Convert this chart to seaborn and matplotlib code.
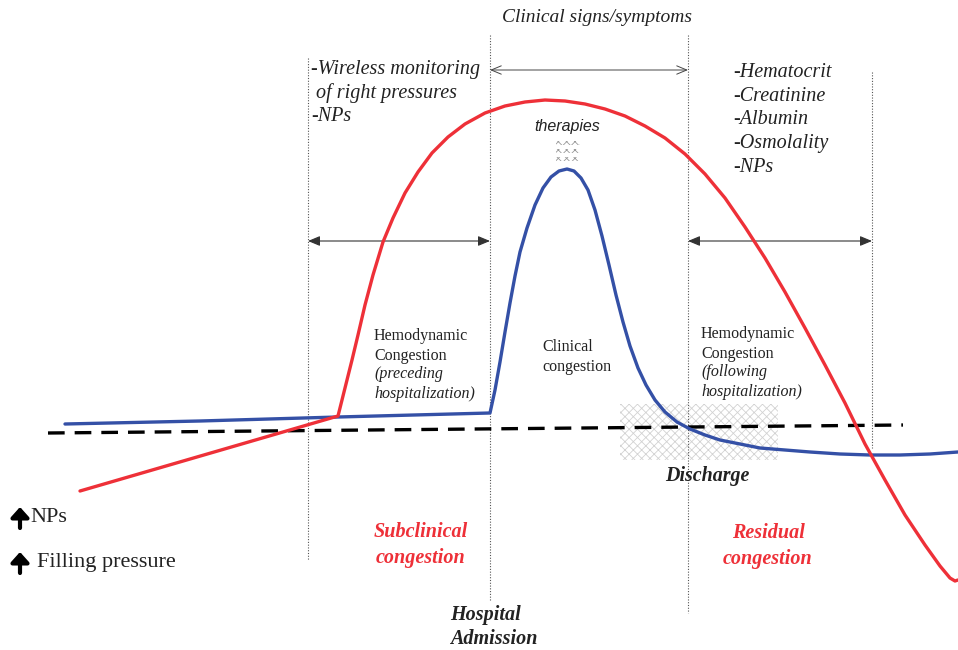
"""
Congestion timeline diagram: hemodynamic vs clinical congestion
"""
import numpy as np
import pandas as pd
import matplotlib.pyplot as plt
from matplotlib.patches import Rectangle
import seaborn as sns

sns.set_theme(style="white")
plt.rcParams["font.family"] = ["Liberation Serif", "DejaVu Serif"]

# ── Data (pixel space, y down) ───────────────────────────────────────────────
red_x = [80, 338, 342, 347, 352, 358, 365, 373, 383, 393, 405, 418, 432, 448, 465,
         485, 505, 525, 545, 565, 585, 605, 625, 645, 665, 685, 705, 725, 745, 765,
         785, 805, 825, 845, 865, 885, 905, 925, 940, 950, 955, 958]
red_y = [491, 416, 400, 380, 360, 335, 305, 275, 242, 218, 193, 172, 153, 137, 124,
         113, 106, 102, 100, 101, 104, 109, 116, 126, 138, 154, 174, 198, 227, 258,
         292, 328, 365, 403, 444, 480, 515, 545, 566, 578, 581, 580]

blue_x = [65, 200, 338, 490, 495, 500, 505, 510, 515, 520, 527, 535, 543, 551, 559,
          567, 574, 581, 588, 595, 602, 609, 616, 623, 630, 638, 646, 655, 665, 677,
          690, 705, 720, 740, 760, 785, 810, 840, 870, 900, 930, 958]
blue_y = [424, 421, 417, 413, 390, 362, 332, 303, 276, 252, 228, 205, 188, 177, 171,
          169, 171, 178, 190, 210, 236, 265, 295, 322, 346, 368, 385, 400, 412, 422,
          429, 435, 440, 444, 448, 450, 452, 454, 455, 455, 454, 452]

dash_x = [48, 903]
dash_y = [433, 425]

vline_x = [308, 490, 688, 872]
vline_top = [58, 35, 35, 72]
vline_bot = [560, 600, 613, 448]

RED = "#ee3038"
BLUE = "#3450a6"
INK = "#222222"

red = pd.DataFrame({"x": red_x, "y": red_y})
blue = pd.DataFrame({"x": blue_x, "y": blue_y})

# ── Figure ───────────────────────────────────────────────────────────────────
fig = plt.figure(figsize=(9.58, 6.5), dpi=100)
ax = fig.add_axes([0, 0, 1, 1])

# hatched discharge zone and therapy marks
plt.rcParams["hatch.linewidth"] = 0.6
ax.add_patch(Rectangle((620, 404), 158, 56, facecolor="none", edgecolor="#d2d2d2",
                       hatch="xxxx", linewidth=0, zorder=1))
for yy in [141, 149, 157]:
    ax.add_patch(Rectangle((556, yy), 24, 4, facecolor="none", edgecolor="#9a9a9a",
                           hatch="xxxx", linewidth=0, zorder=1))

ax.vlines(vline_x, vline_top, vline_bot, colors="#555555", linestyles=(0, (1, 1.5)),
          linewidth=0.8, zorder=1)

sns.lineplot(data=blue, x="x", y="y", sort=False, estimator=None, color=BLUE,
             linewidth=2.4, ax=ax, zorder=3)
sns.lineplot(x=dash_x, y=dash_y, sort=False, estimator=None, color="black",
             linewidth=2.4, linestyle=(0, (5, 3)), ax=ax, zorder=2)
sns.lineplot(data=red, x="x", y="y", sort=False, estimator=None, color=RED,
             linewidth=2.4, ax=ax, zorder=4)
ax.set_xlim(0, 958)
ax.set_ylim(650, 0)
ax.axis("off")

# span arrows
arr = dict(arrowstyle="<|-|>,head_width=0.25,head_length=0.6", color="#333333",
           lw=0.8, shrinkA=0, shrinkB=0)
ax.annotate("", xy=(308, 241), xytext=(490, 241), arrowprops=arr)
ax.annotate("", xy=(688, 241), xytext=(872, 241), arrowprops=arr)
ax.annotate("", xy=(490, 70), xytext=(688, 70),
            arrowprops=dict(arrowstyle="<->,head_width=0.25,head_length=0.6",
                            color="#444444", lw=0.7, shrinkA=0, shrinkB=0))

# ── Labels ───────────────────────────────────────────────────────────────────
ax.text(597, 18, "Clinical signs/symptoms", style="italic", fontsize=14,
        ha="center", va="center", color=INK)
ax.text(311, 93, "-Wireless monitoring\n of right pressures\n-NPs", style="italic",
        fontsize=14.5, ha="left", va="center", linespacing=1.26, color=INK)
ax.text(733, 120, "-Hematocrit\n-Creatinine\n-Albumin\n-Osmolality\n-NPs",
        style="italic", fontsize=14.5, ha="left", va="center", linespacing=1.34,
        color=INK)
ax.text(567, 127, "therapies", family=["Liberation Sans", "DejaVu Sans"],
        style="italic", fontsize=11.5, ha="center", va="center", color=INK)

ax.text(374, 346, "Hemodynamic\nCongestion", fontsize=11.5, ha="left", va="center",
        linespacing=1.26, color=INK)
ax.text(374, 384, "(preceding\nhospitalization)", fontsize=11.5, style="italic",
        ha="left", va="center", linespacing=1.26, color=INK)
ax.text(542, 357, "Clinical\ncongestion", fontsize=11.5, ha="left", va="center",
        linespacing=1.33, color=INK)
ax.text(701, 344, "Hemodynamic\nCongestion", fontsize=11.5, ha="left", va="center",
        linespacing=1.26, color=INK)
ax.text(701, 382, "(following\nhospitalization)", fontsize=11.5, style="italic",
        ha="left", va="center", linespacing=1.26, color=INK)

ax.text(707, 476, "Discharge", fontsize=14.4, style="italic", weight="bold",
        ha="center", va="center", color=INK)
ax.text(421, 545, "Subclinical\ncongestion", fontsize=14.5, style="italic",
        weight="bold", ha="center", va="center", color=RED, linespacing=1.34)
ax.text(768, 546, "Residual\ncongestion", fontsize=14.5, style="italic",
        weight="bold", ha="center", va="center", color=RED, linespacing=1.34)
ax.text(450, 627, "Hospital\nAdmission", fontsize=14.5, style="italic",
        weight="bold", ha="left", va="center", color=INK, linespacing=1.22)

# up arrows
up = dict(arrowstyle="-|>,head_width=0.45,head_length=0.5", color="black", lw=3,
          shrinkA=0, shrinkB=0)
ax.annotate("", xy=(20, 507), xytext=(20, 528), arrowprops=up)
ax.annotate("", xy=(20, 552), xytext=(20, 573), arrowprops=up)
ax.text(30, 518, "NPs", fontsize=16, ha="left", va="center", color=INK)
ax.text(37, 563, "Filling pressure", fontsize=16, ha="left", va="center", color=INK)

plt.savefig("out.png", dpi=100)
